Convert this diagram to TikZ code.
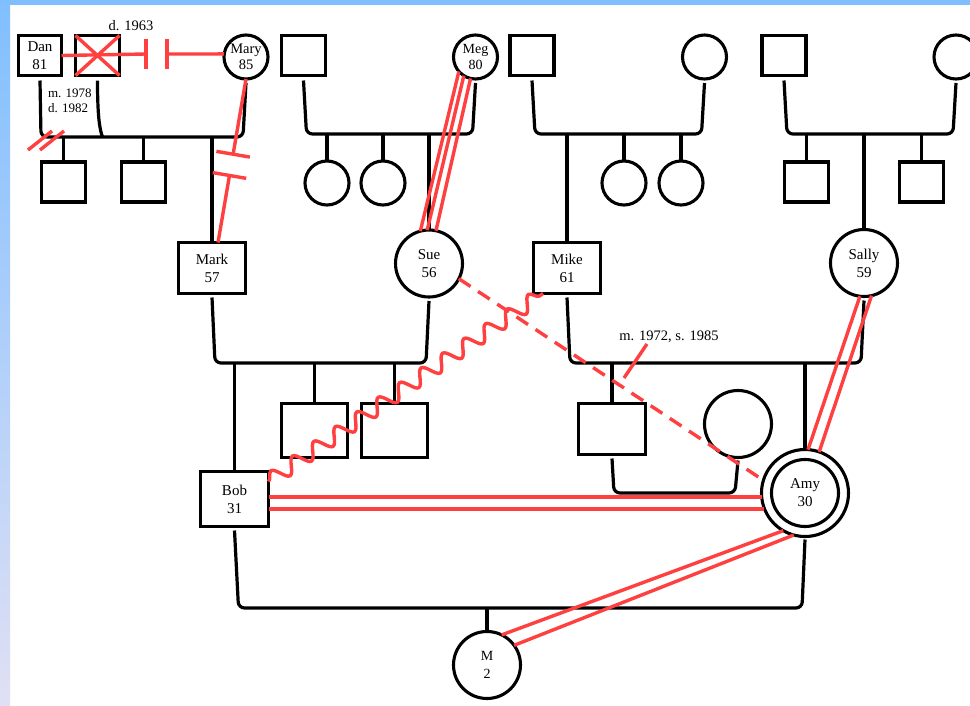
\documentclass[tikz,border=0pt]{standalone}
\usepackage{fontspec}
\setmainfont{Liberation Serif}
\usetikzlibrary{calc,decorations.pathmorphing}
\definecolor{rl}{RGB}{255,64,64}
\definecolor{bordtop}{RGB}{128,191,255}
\definecolor{bordbot}{RGB}{224,224,244}
\begin{document}
\begin{tikzpicture}[x=1pt,y=-1pt,
  txt/.style={font=\fontsize{15}{18}\selectfont},
  sq/.style={draw, line width=3.1pt, rectangle, minimum width=44pt, minimum height=40pt, inner sep=0pt, outer sep=0pt, align=center, txt},
  bsq/.style={sq, minimum width=67pt, minimum height=51pt},
  ci/.style={draw, line width=3.1pt, circle, minimum size=44pt, inner sep=0pt, outer sep=0pt, align=center, txt},
  bci/.style={ci, minimum size=67pt},
  kin/.style={line width=3.2pt, rounded corners=6pt},
  rd/.style={line width=3.4pt, draw=rl},
  lab/.style={inner sep=0pt, outer sep=0pt, font=\fontsize{14.5}{17}\selectfont}]
\useasboundingbox (0,0) rectangle (970,705);
\clip (0,0) rectangle (970,705);
\fill[white] (0,0) rectangle (970,705);
\fill[bordtop] (0,0) rectangle (970,5);
\shade[top color=bordtop, bottom color=bordbot] (0,0) rectangle (10,705);

% generation 1
\node[sq, line width=2.5pt, minimum width=43pt, minimum height=40pt] (dan) at (40,55.5) {Dan\\81};
\node[sq] (dec) at (97.5,55.5) {};
\node[ci, font=\fontsize{14.5}{16}\selectfont] (mary) at (246,57) {Mary\\85};
\node[sq] (u1) at (303.5,55.5) {};
\node[ci, font=\fontsize{14}{16}\selectfont] (meg) at (475.5,57) {Meg\\80};
\node[sq] (u3) at (532,55.5) {};
\node[ci] (f3) at (704.5,57) {};
\node[sq] (u4) at (784,55.5) {};
\node[ci] (f4) at (956,57) {};

% generation 2
\node[sq] (c11) at (63.5,182) {};
\node[sq] (c12) at (143.5,182) {};
\node[bsq] (mark) at (212,268) {Mark\\57};
\node[ci] (c21) at (327,183) {};
\node[ci] (c22) at (383,183) {};
\node[bci] (sue) at (429,263.5) {Sue\\56};
\node[bsq] (mike) at (567,268) {Mike\\61};
\node[ci] (c31) at (624,183) {};
\node[ci] (c32) at (681,183) {};
\node[sq] (c41) at (806.5,182) {};
\node[bci] (sally) at (864,263) {Sally\\59};
\node[sq] (c42) at (921.5,182) {};

% generation 3
\node[bsq, minimum width=66pt, minimum height=54pt] (c51) at (314.5,430.5) {};
\node[bsq, minimum width=66pt, minimum height=54pt] (c52) at (394.5,430.5) {};
\node[bsq] (c61) at (612,429) {};
\node[bci] (c62) at (738,424) {};
\node[bsq, minimum width=68pt, minimum height=55pt] (bob) at (234.5,499) {Bob\\31};
\node[ci, minimum size=87pt] (amy) at (805,493) {Amy\\30};
\node[draw, circle, line width=3.1pt, minimum size=67pt, inner sep=0pt, outer sep=0pt] (amyin) at (amy.center) {};

% generation 4
\node[bci, font=\fontsize{14}{18}\selectfont] (m) at (487,665) {M\\2};

% sibship bars
\coordinate (h1) at (0,137);
\coordinate (h2) at (0,134);
\coordinate (h3) at (0,363);
\coordinate (h4) at (0,493);
\coordinate (h5) at (0,608);

% family 1
\draw[kin] ([yshift=-5pt]dan.south) -- ($(dan.south |- h1)+(1,0)$) -- ($(mary.south |- h1)+(-3,0)$) -- ([yshift=-4pt]mary.south);
\draw[kin] ([yshift=-5pt]dec.south) .. controls +(0,35) and +(-3,-8) .. ($(dec.south |- h1)+(5,0)$);
\draw[kin] (c11.north) -- (c11.north |- h1);
\draw[kin] (c12.north) -- (c12.north |- h1);
\draw[kin] (mark.north) -- (mark.north |- h1);
% family 2
\draw[kin] ([yshift=-5pt]u1.south) -- ($(u1.south |- h2)+(3,0)$) -- ($(meg.south |- h2)+(-3,0)$) -- ([yshift=-4pt]meg.south);
\draw[kin] (c21.north) -- (c21.north |- h2);
\draw[kin] (c22.north) -- (c22.north |- h2);
\draw[kin] (sue.north) -- (sue.north |- h2);
% family 3
\draw[kin] ([yshift=-5pt]u3.south) -- ($(u3.south |- h2)+(3,0)$) -- ($(f3.south |- h2)+(-3,0)$) -- ([yshift=-4pt]f3.south);
\draw[kin] (mike.north) -- (mike.north |- h2);
\draw[kin] (c31.north) -- (c31.north |- h2);
\draw[kin] (c32.north) -- (c32.north |- h2);
% family 4
\draw[kin] ([yshift=-5pt]u4.south) -- ($(u4.south |- h2)+(3,0)$) -- ($(f4.south |- h2)+(-3,0)$) -- ([yshift=-4pt]f4.south);
\draw[kin] (c41.north) -- (c41.north |- h2);
\draw[kin] (sally.north) -- (sally.north |- h2);
\draw[kin] (c42.north) -- (c42.north |- h2);
% Mark + Sue
\draw[kin] ([yshift=-4pt]mark.south) -- ($(mark.south |- h3)+(3,0)$) -- ($(sue.south |- h3)+(-3,0)$) -- ([yshift=-4pt]sue.south);
\draw[kin] (bob.north) -- (bob.north |- h3);
\draw[kin] (c51.north) -- (c51.north |- h3);
\draw[kin] (c52.north) -- (c52.north |- h3);
% Mike + Sally
\draw[kin] ([yshift=-4pt]mike.south) -- ($(mike.south |- h3)+(3,0)$) -- ($(sally.south |- h3)+(-3,0)$) -- ([yshift=-4pt]sally.south);
\draw[kin] (c61.north) -- (c61.north |- h3);
\draw[kin] (amy.north) -- (amy.north |- h3);
% c61 + c62
\draw[kin] ([yshift=-4pt]c61.south) -- ($(c61.south |- h4)+(2,0)$) -- ($(c62.south |- h4)+(-3,0)$) -- ([yshift=-3pt]c62.south);
% Bob + Amy
\draw[kin] ([yshift=-4pt]bob.south) -- ($(bob.south |- h5)+(4,0)$) -- ($(amy.south |- h5)+(-3,0)$) -- ([yshift=-3pt]amy.south);
\draw[kin] (m.north) -- (m.north |- h5);

% red relations
\coordinate (t1) at (146,54);
\coordinate (t2) at (167,54);
\draw[rd] (dan.east) -- (t1);
\draw[rd] ([yshift=15pt]t1) -- ([yshift=-15pt]t1);
\draw[rd] ([yshift=15pt]t2) -- ([yshift=-15pt]t2);
\draw[rd] (t2) -- (mary.172);
\draw[rd] (dec.north west) -- (dec.south east);
\draw[rd] (dec.south west) -- (dec.north east);
\coordinate (s1a) at (28,150);
\coordinate (s1b) at (52,131);
\coordinate (s2a) at (40,150);
\coordinate (s2b) at (64,131);
\draw[rd] (s1a) -- (s1b);
\draw[rd] (s2a) -- (s2b);

\coordinate (mk) at ($(mark.north)+(6,0)$);
\path (mary.south) -- coordinate[pos=0.46] (ba) coordinate[pos=0.59] (bb) (mk);
\draw[rd] (mary.south) -- (ba);
\draw[rd] (bb) -- (mk);
\draw[rd] ($(ba)!17pt!90:(mary.south)$) -- ($(ba)!17pt!-90:(mary.south)$);
\draw[rd] ($(bb)!17pt!90:(mary.south)$) -- ($(bb)!17pt!-90:(mary.south)$);

\draw[rd] (meg.-139) -- (sue.105);
\draw[rd] (meg.-122) -- (sue.93);
\draw[rd] (meg.-103) -- (sue.78);

\draw[rd, decorate, decoration={snake, segment length=26pt, amplitude=7.5pt}] ([yshift=-10pt]bob.north east) -- ([xshift=-24pt]mike.south);

\draw[rd, dash pattern=on 14pt off 9pt] (sue.-27) -- (amy.163);

\coordinate (ba1) at ([yshift=2pt]bob.east);
\coordinate (ba2) at ([yshift=-10pt]bob.east);
\draw[rd] (ba1) -- (ba1 -| amy.185);
\draw[rd] (ba2) -- (ba2 -| amy.199);

\draw[rd] (sally.-97) -- (amy.86);
\draw[rd] (sally.-77) -- (amy.71);

\draw[rd] (amy.-120) -- (m.64);
\draw[rd] (amy.-105) -- (m.36);

% labels
\node[lab] (d63) at (131,26) {d. 1963};
\node[lab, anchor=west, align=left, font=\fontsize{13}{14.5}\selectfont] (md) at (48,101) {m. 1978\\d. 1982};
\node[lab] (lbl) at (669,337) {m. 1972, s. 1985};
\coordinate (lblend) at (624,378);
\draw[rd] ($(lbl.south)+(-22,1)$) -- (lblend);
\end{tikzpicture}
\end{document}
